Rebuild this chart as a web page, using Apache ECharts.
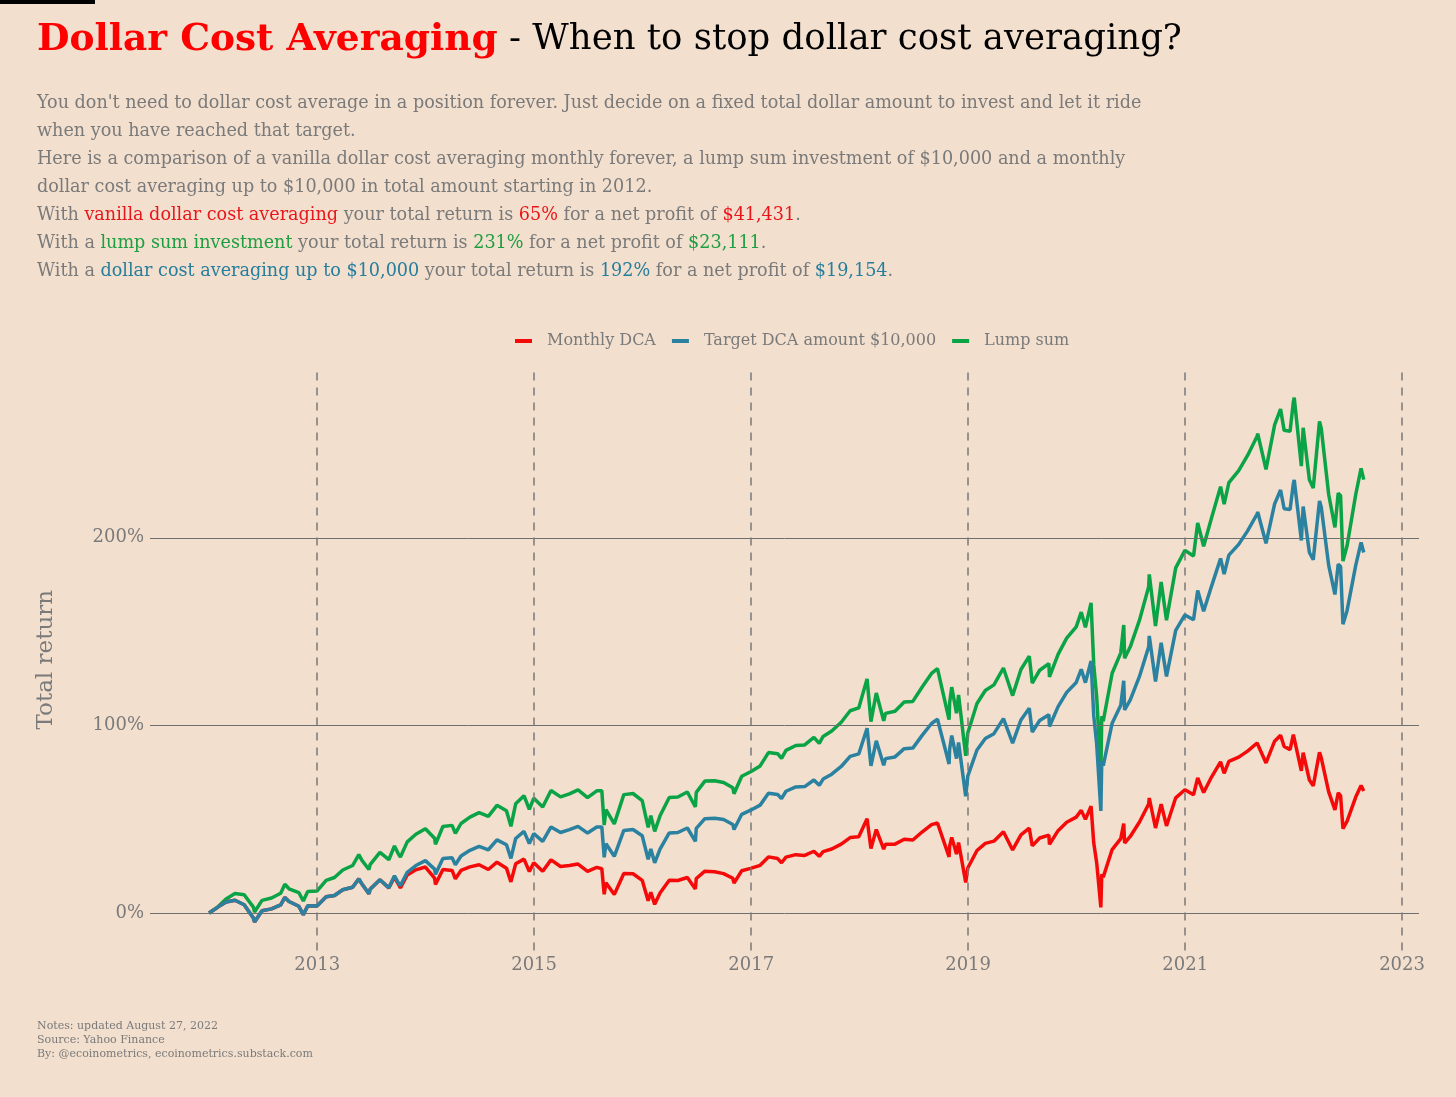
<!DOCTYPE html>
<html><head><meta charset="utf-8">
<script src="https://cdn.jsdelivr.net/npm/echarts@6/dist/echarts.min.js"></script>
<style>html,body{margin:0;padding:0;background:#f2dfce}#c{width:1456px;height:1097px}</style>
</head><body><div id="c"></div>
<script>
const dates = ['2012-01-03','2012-01-31','2012-02-29','2012-03-30','2012-04-30','2012-05-31','2012-06-04','2012-06-29','2012-07-31','2012-08-31','2012-09-14','2012-09-28','2012-10-31','2012-11-15','2012-11-30','2012-12-31',
'2013-01-31','2013-02-28','2013-03-28','2013-04-30','2013-05-21','2013-05-31','2013-06-24','2013-06-28','2013-07-31','2013-08-30','2013-09-18','2013-09-30','2013-10-08','2013-10-31','2013-11-29','2013-12-31',
'2014-01-31','2014-02-03','2014-02-28','2014-03-31','2014-04-11','2014-04-30','2014-05-30','2014-06-30','2014-07-31','2014-08-29','2014-09-30','2014-10-15','2014-10-31','2014-11-28','2014-12-16','2014-12-31',
'2015-01-30','2015-02-27','2015-03-31','2015-04-30','2015-05-29','2015-06-30','2015-07-31','2015-08-17','2015-08-25','2015-08-31','2015-09-28','2015-10-30','2015-11-30','2015-12-31',
'2016-01-20','2016-01-29','2016-02-11','2016-02-29','2016-03-31','2016-04-29','2016-05-31','2016-06-27','2016-06-30','2016-07-29','2016-08-31','2016-09-30','2016-10-31','2016-11-04','2016-11-30','2016-12-30',
'2017-01-31','2017-02-28','2017-03-31','2017-04-13','2017-04-28','2017-05-31','2017-06-30','2017-07-31','2017-08-18','2017-08-31','2017-09-29','2017-10-31','2017-11-30','2017-12-29',
'2018-01-26','2018-02-08','2018-02-26','2018-03-23','2018-03-29','2018-04-30','2018-05-31','2018-06-29','2018-07-31','2018-08-31','2018-09-20','2018-10-29','2018-10-31','2018-11-07','2018-11-23','2018-11-30','2018-12-24','2018-12-31',
'2019-01-31','2019-02-28','2019-03-29','2019-04-30','2019-05-31','2019-06-28','2019-07-26','2019-08-05','2019-08-30','2019-09-30','2019-10-02','2019-10-31','2019-11-29','2019-12-31',
'2020-01-17','2020-01-31','2020-02-19','2020-02-28','2020-03-09','2020-03-23','2020-03-26','2020-03-31','2020-04-30','2020-05-29','2020-06-08','2020-06-11','2020-06-30','2020-07-31','2020-08-31','2020-09-02','2020-09-23','2020-10-12','2020-10-30','2020-11-30','2020-12-31',
'2021-01-29','2021-02-12','2021-03-04','2021-03-31','2021-04-30','2021-05-12','2021-05-28','2021-06-30','2021-07-30','2021-08-31','2021-09-02','2021-09-30','2021-10-04','2021-10-29','2021-11-18','2021-11-30','2021-12-20','2021-12-31',
'2022-01-03','2022-01-27','2022-02-02','2022-02-23','2022-03-08','2022-03-29','2022-04-04','2022-04-29','2022-05-20','2022-05-31','2022-06-08','2022-06-16','2022-06-30','2022-07-29','2022-08-16','2022-08-25'];

const lumpSum = [0,3.0,7.5,10.4,9.7,3.1,0.5,6.7,8.0,10.5,15.3,12.9,10.9,6.4,11.5,11.7,
17.4,18.9,22.9,25.3,31.1,28.2,23.2,25.8,32.3,28.4,35.7,31.8,29.8,37.9,42.0,44.9,
39.8,36.6,46.1,46.7,42.4,47.7,51.1,53.5,51.5,57.4,54.5,46.2,58.2,62.5,55.2,61.2,
56.5,65.3,61.9,63.5,65.6,61.5,65.1,65.2,46.9,55.1,47.5,63.1,63.7,59.9,
45.6,51.9,43.5,51.8,61.6,61.8,64.5,56.5,64.3,70.3,70.5,69.6,66.7,63.6,72.9,75.3,
78.4,85.5,84.9,82.4,86.7,89.3,89.6,93.6,90.4,94.1,97.0,101.7,107.8,109.3,
124.8,102.0,117.3,102.4,106.4,107.5,112.5,112.8,120.6,127.7,130.3,103.1,112.2,120.4,106.5,116.2,83.8,96.0,
111.7,118.6,121.6,130.6,115.9,129.8,136.9,122.6,129.4,132.9,125.9,137.9,146.5,152.5,
160.4,152.3,165.3,132.4,115.1,74.9,104.9,102.2,127.8,138.7,153.5,135.8,141.9,156.1,174.0,180.5,153.0,176.4,156.1,184.0,193.3,
190.3,207.9,195.5,210.8,227.3,218.0,229.4,235.8,243.9,254.2,255.5,236.5,236.2,260.2,268.6,257.3,256.8,272.5,
274.7,238.2,258.7,230.9,226.5,262.0,258.3,223.1,205.6,223.8,222.5,187.6,195.9,223.1,237.0,231.0];

const targetDCA = [0,3.0,5.9,6.8,4.4,-2.7,-4.8,1.2,2.2,4.3,8.3,6.1,3.6,-0.9,3.8,3.7,
8.6,9.3,12.4,13.7,18.2,15.6,10.3,12.6,17.7,13.4,19.8,16.3,14.6,21.7,25.3,27.9,
23.4,20.6,29.0,29.5,25.7,30.4,33.4,35.5,33.7,39.0,36.4,29.1,39.7,43.5,37.0,42.3,
38.2,45.9,42.9,44.4,46.2,42.6,45.8,45.9,29.7,36.9,30.2,44.0,44.5,41.2,
28.6,34.1,26.7,34.1,42.7,42.9,45.3,38.2,45.1,50.3,50.5,49.8,47.2,44.5,52.6,54.8,
57.5,63.8,63.2,61.0,64.9,67.2,67.4,70.9,68.1,71.4,74.0,78.1,83.5,84.8,
98.5,78.4,91.8,78.7,82.3,83.2,87.6,87.9,94.8,101.0,103.3,79.4,87.4,94.6,82.3,90.9,62.2,73.0,
86.9,93.0,95.6,103.6,90.6,102.9,109.1,96.5,102.6,105.7,99.4,110.0,117.6,122.9,
129.9,122.8,134.3,105.2,89.9,54.4,80.9,78.5,101.2,110.7,123.8,108.2,113.6,126.1,141.9,147.7,123.4,144.0,126.1,150.7,158.9,
156.3,171.9,160.9,174.4,189.0,180.7,190.8,196.5,203.7,212.7,213.8,197.1,196.8,218.1,225.5,215.5,215.1,228.9,
230.8,198.6,216.7,192.2,188.3,219.7,216.3,185.3,169.8,185.9,184.7,153.9,161.3,185.3,197.6,192.2];

const monthlyDCA = [0,3.0,5.9,6.8,4.4,-2.7,-4.8,1.2,2.2,4.3,8.3,6.1,3.6,-0.9,3.8,3.7,
8.6,9.3,12.4,13.7,18.2,15.6,10.3,12.6,17.7,13.4,19.1,15.7,13.3,20.3,23.0,24.5,
18.6,15.2,23.2,22.7,18.2,22.7,24.6,25.7,23.2,27.1,23.9,16.6,26.2,28.7,22.1,26.8,
22.2,28.3,24.8,25.3,26.1,22.2,24.3,23.6,10.0,16.1,9.9,21.1,20.9,17.4,
6.5,11.1,4.6,10.7,17.5,17.3,18.9,12.8,18.4,22.3,22.0,21.0,18.5,15.9,22.5,23.8,
25.4,29.9,29.0,26.8,29.8,31.1,30.7,32.9,30.2,32.7,34.1,36.7,40.2,40.6,
50.2,34.3,44.5,34.0,36.7,36.7,39.3,38.9,43.3,47.1,48.0,29.9,35.7,40.3,31.4,37.6,16.3,24.0,
33.3,37.1,38.3,43.3,33.6,41.6,45.2,35.8,40.0,41.5,36.6,43.9,48.4,51.1,
54.7,49.9,56.9,37.4,26.7,3.0,20.6,19.1,33.8,39.6,47.6,37.3,40.8,48.5,58.1,61.3,45.3,58.0,46.4,61.4,65.7,
63.0,72.0,64.2,72.6,80.6,74.5,80.8,83.1,86.3,90.6,90.5,80.0,79.0,91.6,94.8,88.8,87.1,95.1,
95.2,75.8,85.5,70.9,67.8,85.6,82.7,64.6,55.0,64.0,62.6,45.0,49.0,61.8,68.0,65.0];

const yTicks = [0, 100, 200];
const xTickYears = [2013, 2015, 2017, 2019, 2021, 2023];

const FONT = '"DejaVu Serif", Georgia, serif';
const GREY = '#7a7a7a';
const C_RED = '#f50a0a', C_BLUE = '#2a82a0', C_GREEN = '#0aa345';

const pair = arr => dates.map((d, i) => [Date.parse(d), arr[i]]);
const yearTs = y => Date.UTC(y, 0, 1);

const chart = echarts.init(document.getElementById('c'), null, {renderer: 'canvas'});

const SUB = 17.6;
const rich = {
  r: {fill: '#e8161b', fontSize: SUB, fontFamily: FONT},
  g: {fill: '#1d9e40', fontSize: SUB, fontFamily: FONT},
  b: {fill: '#267d9c', fontSize: SUB, fontFamily: FONT}
};
const subLines = [
  "You don't need to dollar cost average in a position forever. Just decide on a fixed total dollar amount to invest and let it ride",
  "when you have reached that target.",
  "Here is a comparison of a vanilla dollar cost averaging monthly forever, a lump sum investment of $10,000 and a monthly",
  "dollar cost averaging up to $10,000 in total amount starting in 2012.",
  "With {r|vanilla dollar cost averaging} your total return is {r|65%} for a net profit of {r|$41,431}.",
  "With a {g|lump sum investment} your total return is {g|231%} for a net profit of {g|$23,111}.",
  "With a {b|dollar cost averaging up to $10,000} your total return is {b|192%} for a net profit of {b|$19,154}."
];

const graphics = [
  {type: 'rect', left: 0, top: 0, shape: {width: 95, height: 4}, style: {fill: '#000'}},
  {type: 'text', left: 37, top: 21, style: {
    text: '{a|Dollar Cost Averaging}{b| - When to stop dollar cost averaging?}',
    rich: {
      a: {fill: '#ff0000', fontSize: 37.5, fontWeight: 'bold', fontFamily: FONT},
      b: {fill: '#000000', fontSize: 35.5, fontFamily: FONT}
    }
  }}
];
subLines.forEach((t, i) => {
  graphics.push({type: 'text', left: 37, top: 94 + i * 28, style: {
    text: t, rich: rich, fill: GREY, fontSize: SUB, fontFamily: FONT
  }});
});
graphics.push({type: 'text', left: 37, top: 1019, style: {
  text: 'Notes: updated August 27, 2022\nSource: Yahoo Finance\nBy: @ecoinometrics, ecoinometrics.substack.com',
  fill: GREY, fontSize: 11, fontFamily: FONT, lineHeight: 14
}});

const lineSeries = (name, arr, color, z) => ({
  name, type: 'line', data: pair(arr), showSymbol: false, symbol: 'none', z,
  lineStyle: {color, width: 3.5}, itemStyle: {color}, animation: false
});

const option = {
  backgroundColor: '#f2dfce',
  animation: false,
  graphic: graphics,
  legend: {
    data: ['Monthly DCA', 'Target DCA amount $10,000', 'Lump sum'],
    top: 328, left: 510,
    icon: 'rect', itemWidth: 17, itemHeight: 4, itemGap: 16,
    textStyle: {color: GREY, fontSize: 16, fontFamily: FONT, padding: [0, 0, 0, 10]}
  },
  grid: {left: 150, right: 37, top: 369, bottom: 146.5, containLabel: false},
  xAxis: {
    type: 'value',
    min: Date.UTC(2011, 5, 18), max: Date.UTC(2023, 1, 27),
    axisLine: {show: false}, axisTick: {show: false}, splitLine: {show: false},
    axisLabel: {
      customValues: xTickYears.map(yearTs),
      formatter: v => String(new Date(v).getUTCFullYear()),
      color: GREY, fontSize: 18, fontFamily: FONT, margin: 6
    }
  },
  yAxis: {
    type: 'value', min: -20, max: 290,
    name: 'Total return', nameLocation: 'middle', nameGap: 92, nameRotate: 90,
    nameTextStyle: {color: GREY, fontSize: 23, fontFamily: FONT},
    axisLine: {show: false}, axisTick: {show: false}, splitLine: {show: false},
    axisLabel: {
      customValues: yTicks,
      formatter: v => v + '%',
      color: GREY, fontSize: 18, fontFamily: FONT, margin: 6
    }
  },
  series: [
    Object.assign(lineSeries('Lump sum', lumpSum, C_GREEN, 3), {
      markLine: {
        silent: true, symbol: 'none', label: {show: false}, animation: false,
        data: [
          ...yTicks.map(v => ({yAxis: v, lineStyle: {color: '#6f6f6f', width: 1, type: 'solid'}})),
          ...xTickYears.map(y => ({xAxis: yearTs(y), lineStyle: {color: '#7a7a7a', width: 1.5, type: [8, 7]}}))
        ]
      }
    }),
    lineSeries('Monthly DCA', monthlyDCA, C_RED, 4),
    lineSeries('Target DCA amount $10,000', targetDCA, C_BLUE, 5)
  ]
};
chart.setOption(option);
</script>
</body></html>
